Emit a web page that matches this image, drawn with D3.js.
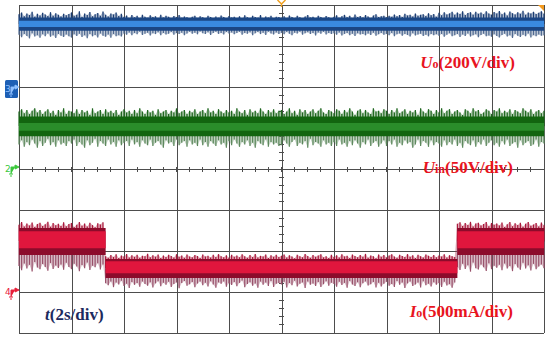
<!DOCTYPE html>
<html>
<head>
<meta charset="utf-8">
<script src="https://cdn.jsdelivr.net/npm/d3@7/dist/d3.min.js"></script>
<style>
	body { margin:0; background:#fff; }
	svg { display:block; }
	.grid line { stroke:#4d4d4d; stroke-width:1; shape-rendering:crispEdges; }
	.label { font-family:"Liberation Serif","Times New Roman",serif; font-weight:bold; }
</style>
</head>
<body>
<div id="chart"></div>
<script>
'use strict';

// scope time base : 10 div x 2 s/div, one sample every 0.1 s
var timeDomain = [0, 20];
var sampleStep = 0.1;

// channel 3 : Uo (V), 200 V/div
var uoStepTimes = [0, 20];
var uoLevels = [317, 317];
var uoBands = [32, 32];
var uoUpper = [
	48,56,38,52,44,60,36,50,42,55,47,39,58,41,53,45,37,50,43,49,
	57,40,46,62,35,51,44,59,38,48,54,41,61,45,37,52,47,56,39,50,
	35,42,30,44,33,40,28,46,36,31,43,34,38,29,45,32,41,36,30,39,
	34,44,31,37,33,28,36,41,30,38,33,26,40,35,29,37,31,42,34,27,
	39,32,36,30,38,27,43,33,29,40,35,31,44,28,37,32,41,30,36,34,
	31,38,29,42,35,30,40,33,27,37,44,32,36,29,41,34,30,39,33,28,
	36,43,31,38,45,33,40,29,47,35,39,32,44,37,30,42,48,34,38,41,
	33,41,36,47,38,44,35,50,42,46,37,52,40,45,48,39,53,43,49,36,
	55,43,58,47,52,60,45,56,49,62,44,54,58,46,60,50,57,48,63,52,
	46,59,51,64,48,56,42,61,53,47,58,50,65,45,57,52,60,49,55,62,
	50];
var uoLower = [
	52,64,48,58,70,45,61,55,67,50,59,46,62,54,68,49,57,63,51,60,
	66,50,58,47,63,55,69,48,60,53,65,46,57,62,51,67,49,59,54,61,
	46,52,41,55,44,50,38,53,47,42,56,45,49,40,54,43,51,47,39,52,
	44,48,42,55,46,38,47,42,50,36,45,49,40,53,44,37,48,43,51,39,
	46,41,50,44,38,52,43,47,40,55,45,39,49,42,53,37,46,51,41,48,
	43,50,39,47,54,42,46,38,52,45,40,49,44,56,41,47,38,51,43,48,
	45,52,41,56,48,43,54,47,58,45,51,49,55,46,53,42,57,50,44,52,
	48,55,44,59,50,46,57,49,53,61,45,56,51,47,58,52,60,48,54,50,
	57,48,62,52,45,60,54,49,63,51,58,46,61,55,50,64,53,47,59,56,
	62,50,58,66,53,47,61,55,68,49,57,63,52,59,46,65,54,60,51,57,
	55];

// channel 2 : Uin (V), 50 V/div
var uinStepTimes = [0, 20];
var uinLevels = [52, 52];
var uinBands = [12, 12];
var uinUpper = [
	18,21,16,20,15,19,22,17,20,15,18,21,16,19,14,20,17,22,15,19,
	18,16,21,15,20,17,19,14,22,16,18,20,15,21,17,19,16,20,14,18,
	21,17,19,15,20,16,22,18,15,20,17,19,14,21,16,18,20,15,19,17,
	22,16,18,20,15,19,17,21,15,18,20,16,22,17,19,15,21,18,16,20,
	17,19,15,22,18,16,20,14,21,17,19,16,22,18,15,20,17,21,16,19,
	20,15,18,22,16,19,14,21,17,20,15,18,21,16,19,22,17,15,20,18,
	16,21,19,15,20,17,22,18,14,19,21,16,20,17,15,22,18,19,16,21,
	19,15,20,17,22,16,18,21,15,19,17,20,14,22,18,16,21,19,15,20,
	17,22,16,19,21,15,18,20,17,14,21,19,16,22,18,20,15,17,21,19,
	15,20,18,22,16,19,17,21,15,20,18,16,22,19,17,21,15,18,20,16,
	19];
var uinLower = [
	22,17,25,19,23,16,21,26,18,24,20,15,23,19,25,17,22,20,24,18,
	21,16,24,19,22,26,17,23,20,15,25,18,21,24,16,22,19,25,17,23,
	20,18,24,16,22,19,25,17,21,23,16,24,20,18,22,26,17,21,19,24,
	16,23,20,18,25,17,22,20,24,16,23,19,25,18,21,24,17,22,20,26,
	18,23,16,21,25,19,22,17,24,20,26,18,21,23,16,25,19,22,20,24,
	23,17,21,25,19,16,24,20,22,18,26,15,23,19,21,25,17,22,20,24,
	19,24,16,22,20,25,18,23,17,21,26,19,22,16,24,20,18,25,21,17,
	24,18,22,16,25,20,23,17,21,19,26,22,16,24,18,20,25,17,23,19,
	21,25,17,23,19,22,16,24,20,26,18,21,23,17,25,19,22,16,24,20,
	17,23,20,25,18,22,16,24,21,19,26,17,23,20,18,24,22,16,25,19,
	21];

// channel 4 : Io (mA), 500 mA/div, load step down then back up
var ioStepTimes = [0, 3.3, 16.7, 20];
var ioLevels = [616, 287, 616, 616];
var ioBands = [165, 116, 165, 165];
var ioUpper = [
	205,238,182,220,195,232,176,214,228,188,210,240,180,224,198,216,190,235,185,212,
	226,178,203,237,192,219,184,230,200,174,222,208,236,150,132,165,141,172,128,158,
	146,176,135,160,142,168,130,155,148,178,137,162,144,170,129,157,139,166,151,134,
	174,143,159,131,169,147,138,163,152,127,171,145,156,133,167,140,175,149,136,161,
	130,168,144,158,137,173,150,132,164,141,177,135,154,146,170,128,160,142,166,139,
	155,171,134,162,145,126,168,149,137,176,153,131,164,143,158,172,136,150,129,167,
	140,161,133,174,147,156,128,169,151,138,165,144,178,132,159,148,126,170,142,163,
	135,157,173,146,130,166,152,139,175,143,160,127,168,149,134,171,155,141,164,137,
	158,145,172,133,162,150,139,215,236,190,225,202,240,184,218,230,196,212,238,187,
	226,205,220,194,233,178,210,239,186,222,200,229,181,216,237,192,207,224,183,231,
	198];
var ioLower = [
	300,352,268,330,285,365,250,318,340,275,310,358,262,335,292,322,280,345,258,312,
	338,270,305,362,288,326,255,348,296,315,265,342,282,180,205,160,228,172,195,150,
	215,185,238,165,200,176,222,158,190,210,168,232,182,155,218,175,198,162,226,188,
	170,240,178,152,212,192,166,230,184,160,206,174,220,156,196,235,170,186,158,224,
	180,202,164,216,176,148,228,190,168,210,182,236,160,198,172,214,154,226,186,176,
	195,162,231,178,205,150,220,187,170,239,158,200,183,215,165,227,192,156,210,174,
	188,224,161,203,176,236,152,197,214,169,229,181,158,207,193,166,233,175,219,185,
	163,210,190,227,154,199,172,238,182,160,215,196,171,232,157,204,186,221,168,200,
	178,225,161,208,191,234,170,310,348,272,335,290,368,255,325,342,280,315,360,265,
	338,295,320,285,352,268,330,300,362,276,318,345,260,328,290,355,273,340,305,282,
	325];

var channels = [
	{ id:"uo", num:"3", ground:1.95, perDiv:200, stepTimes:uoStepTimes, levels:uoLevels, bands:uoBands,
	  upper:uoUpper, lower:uoLower, core:[0.5, 0.45],
	  band:"#1b4684", coreColor:"#3a8ae0", spikeUp:"#1a3c72", spikeDown:"#4f6990", mark:"#1d5fb5" },
	{ id:"uin", num:"2", ground:0, perDiv:50, stepTimes:uinStepTimes, levels:uinLevels, bands:uinBands,
	  upper:uinUpper, lower:uinLower, core:[0.35, 0.45],
	  band:"#12650f", coreColor:"#2a8d2a", spikeUp:"#1d661d", spikeDown:"#5b875b", mark:"#3cc83c" },
	{ id:"io", num:"4", ground:-3, perDiv:500, stepTimes:ioStepTimes, levels:ioLevels, bands:ioBands,
	  upper:ioUpper, lower:ioLower, core:[0.75, 0.5],
	  band:"#8c0b2b", coreColor:"#e0163d", spikeUp:"#a9163a", spikeDown:"#98506a", mark:"#e8203a" }
];

var size = { w:550, h:341 };
var svg = d3.select("#chart")
			.append("svg")
			.attr("width", size.w)
			.attr("height", size.h);

var x = d3.scaleLinear().domain(timeDomain).range([19, 544]);
var y = d3.scaleLinear().domain([-4, 4]).range([333, 5]);

// graticule
var grid = svg.append("g").attr("class", "grid");

grid.append("g")
	.attr("transform", `translate(0,${y(-4)})`)
	.call(d3.axisBottom(x).tickValues(d3.range(0, 20.1, 2)).tickSize(-(y(-4) - y(4))).tickFormat(""))
	.call(g => g.select(".domain").remove());

grid.append("g")
	.attr("transform", `translate(${x(0)},0)`)
	.call(d3.axisLeft(y).tickValues(d3.range(-4, 4.1, 1)).tickSize(-(x(20) - x(0))).tickFormat(""))
	.call(g => g.select(".domain").remove());

// minor ticks on the centre cross
grid.selectAll("line.mx")
	.data(d3.range(0, 20.01, 0.5))
	.join("line")
	.attr("class", "mx")
	.attr("x1", d => x(d)).attr("x2", d => x(d))
	.attr("y1", y(0) - 2.5).attr("y2", y(0) + 2.5);

grid.selectAll("line.my")
	.data(d3.range(-4, 4.01, 0.2))
	.join("line")
	.attr("class", "my")
	.attr("x1", x(10) - 2.5).attr("x2", x(10) + 2.5)
	.attr("y1", d => y(d)).attr("y2", d => y(d));

// traces
channels.forEach(ch => {
	var g = svg.append("g").attr("class", `trace-${ch.id}`);
	var toY = v => y(ch.ground + v / ch.perDiv);
	var idx = t => Math.max(0, d3.bisectRight(ch.stepTimes, t) - 1);
	var times = ch.upper.map((d, i) => i * sampleStep);
	var mid = t => ch.levels[idx(t)];

	// soft fuzz between the spike tips
	g.append("path")
		.datum(times)
		.attr("fill", ch.spikeUp)
		.attr("fill-opacity", 0.35)
		.attr("d", d3.area()
			.x(t => x(t))
			.y0(t => toY(mid(t)))
			.y1((t, i) => toY(mid(t) + ch.upper[i])));

	g.append("path")
		.datum(times)
		.attr("fill", ch.spikeDown)
		.attr("fill-opacity", 0.35)
		.attr("d", d3.area()
			.x(t => x(t))
			.y0(t => toY(mid(t)))
			.y1((t, i) => toY(mid(t) - ch.lower[i])));

	g.selectAll("line.up")
		.data(times)
		.join("line")
		.attr("class", "up")
		.attr("x1", t => x(t)).attr("x2", t => x(t))
		.attr("y1", t => toY(mid(t)))
		.attr("y2", (t, i) => toY(mid(t) + ch.upper[i]))
		.attr("stroke", ch.spikeUp)
		.attr("stroke-width", 1.2);

	g.selectAll("line.down")
		.data(times)
		.join("line")
		.attr("class", "down")
		.attr("x1", t => x(t)).attr("x2", t => x(t))
		.attr("y1", t => toY(mid(t)))
		.attr("y2", (t, i) => toY(mid(t) - ch.lower[i]))
		.attr("stroke", ch.spikeDown)
		.attr("stroke-width", 1.2);

	var steps = d3.range(ch.stepTimes.length);

	g.append("path")
		.datum(steps)
		.attr("fill", ch.band)
		.attr("d", d3.area()
			.curve(d3.curveStepAfter)
			.x(i => x(ch.stepTimes[i]))
			.y0(i => toY(ch.levels[i] - ch.bands[i]))
			.y1(i => toY(ch.levels[i] + ch.bands[i])));

	g.append("path")
		.datum(steps)
		.attr("fill", ch.coreColor)
		.attr("d", d3.area()
			.curve(d3.curveStepAfter)
			.x(i => x(ch.stepTimes[i]))
			.y0(i => toY(ch.levels[i] - ch.bands[i] * ch.core[1]))
			.y1(i => toY(ch.levels[i] + ch.bands[i] * ch.core[0])));
});

// channel ground markers on the left edge
var marks = svg.append("g").attr("class", "marks");

channels.forEach(ch => {
	var gy = y(ch.ground);
	var m = marks.append("g").attr("transform", `translate(0,${gy})`);
	var fg = ch.mark;

	if (ch.id == "uo") {
		m.append("rect")
		 .attr("x", 5).attr("y", -9).attr("width", 13).attr("height", 18).attr("rx", 1.5)
		 .attr("fill", ch.mark);
		fg = "#8fc0ff";
	}

	m.append("text")
	 .attr("x", 5).attr("y", 3)
	 .attr("font-family", "DejaVu Sans, sans-serif")
	 .attr("font-size", 9)
	 .attr("fill", fg)
	 .text(ch.num);

	m.append("path")
	 .attr("d", "M11,5V-2H15M15,-4L19,-2L15,0Z M9,5H13 M10,7H12")
	 .attr("stroke", fg)
	 .attr("fill", fg)
	 .attr("stroke-width", 1);
});

// trigger position and level markers
svg.append("path")
   .attr("d", `M${x(10) - 4},0L${x(10)},4L${x(10) + 4},0M${x(10)},4V7`)
   .attr("stroke", "#f0a020")
   .attr("stroke-width", 1.5)
   .attr("fill", "none");

svg.append("path")
   .attr("d", `M${x(20) - 6},${y(4)}L${x(20)},${y(4)}L${x(20)},${y(4) + 6}Z`)
   .attr("fill", "#f39a1e");

// channel labels
var labels = svg.append("g").attr("class", "label");

function addLabel(px, py, anchor, color, main, sub, rest) {
	var t = labels.append("text")
				  .attr("x", px).attr("y", py)
				  .attr("text-anchor", anchor)
				  .attr("fill", color)
				  .attr("font-size", 17);
	t.append("tspan").attr("font-style", "italic").text(main);
	if (sub) t.append("tspan").attr("font-size", 12).text(sub);
	t.append("tspan").text(rest);
	return t;
}

addLabel(515, 68, "end", "#e8141e", "U", "o", "(200V/div)");
addLabel(513, 173, "end", "#e8141e", "U", "in", "(50V/div)");
addLabel(513, 317, "end", "#e8141e", "I", "o", "(500mA/div)");
addLabel(45, 320, "start", "#1c2a5e", "t", "", "(2s/div)");
</script>
</body>
</html>
